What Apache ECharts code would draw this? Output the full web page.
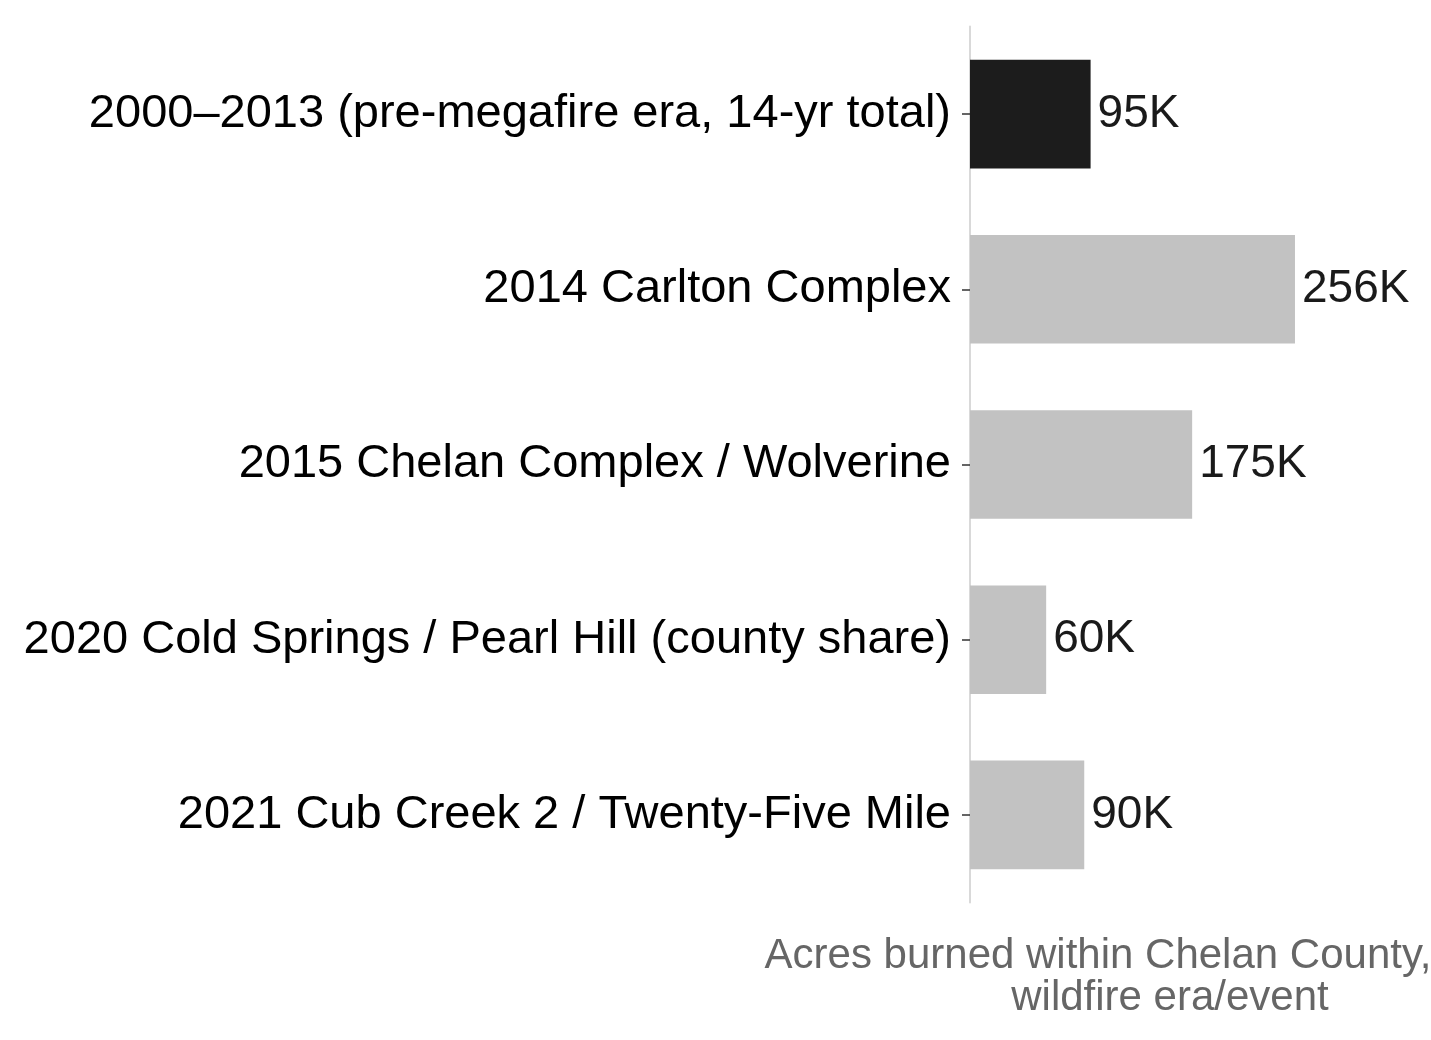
<!DOCTYPE html>
<html>
<head>
<meta charset="utf-8">
<script src="https://cdn.jsdelivr.net/npm/echarts@6/dist/echarts.min.js"></script>
<style>
html, body { margin: 0; padding: 0; background: #fff; }
#chart { width: 1431px; height: 1040px; }
</style>
</head>
<body>
<div id="chart"></div>
<script>
// 数据
var categories = [
    '2000\u20132013 (pre-megafire era, 14-yr total)',
    '2014 Carlton Complex',
    '2015 Chelan Complex / Wolverine',
    '2020 Cold Springs / Pearl Hill (county share)',
    '2021 Cub Creek 2 / Twenty-Five Mile'
];
var acresK = [95, 256, 175, 60, 90];
var barColors = ['#1c1c1c', '#c2c2c2', '#c2c2c2', '#c2c2c2', '#c2c2c2'];
var axisTitle = ['Acres burned within Chelan County,', 'wildfire era/event'];

var myChart = echarts.init(document.getElementById('chart'));
var font = '"Liberation Sans", Arial, Helvetica, sans-serif';

var option = {
    animation: false,
    textStyle: { fontFamily: font },
    title: [{
        text: axisTitle[0],
        left: 1093,
        top: 930,
        textAlign: 'center',
        textStyle: { color: '#666', fontSize: 42, fontWeight: 'normal', fontFamily: font }
    }, {
        text: axisTitle[1],
        left: 1165,
        top: 972,
        textAlign: 'center',
        textStyle: { color: '#666', fontSize: 42, fontWeight: 'normal', fontFamily: font }
    }],
    grid: {
        left: 970,
        right: 29.4,
        top: 26.5,
        bottom: 137.5
    },
    xAxis: {
        type: 'value',
        min: 0,
        max: 340,
        show: false
    },
    yAxis: {
        type: 'category',
        inverse: true,
        data: categories,
        axisLine: { show: true, lineStyle: { color: '#d9d9d9', width: 2 } },
        axisTick: { show: true, alignWithLabel: true, length: 8, lineStyle: { color: '#333', width: 1.5 } },
        axisLabel: { color: '#000', fontSize: 47, margin: 19, padding: [6, 0, 0, 0], fontFamily: font }
    },
    series: [{
        type: 'bar',
        barWidth: '62%',
        data: acresK.map(function (v, i) {
            return { value: v, itemStyle: { color: barColors[i] } };
        }),
        label: {
            show: true,
            position: 'right',
            distance: 7,
            color: '#1a1a1a',
            fontSize: 46,
            fontFamily: font,
            formatter: function (p) { return p.value + 'K'; }
        }
    }]
};

myChart.setOption(option);
window.addEventListener('resize', function () {
    myChart.resize();
});
</script>
</body>
</html>
